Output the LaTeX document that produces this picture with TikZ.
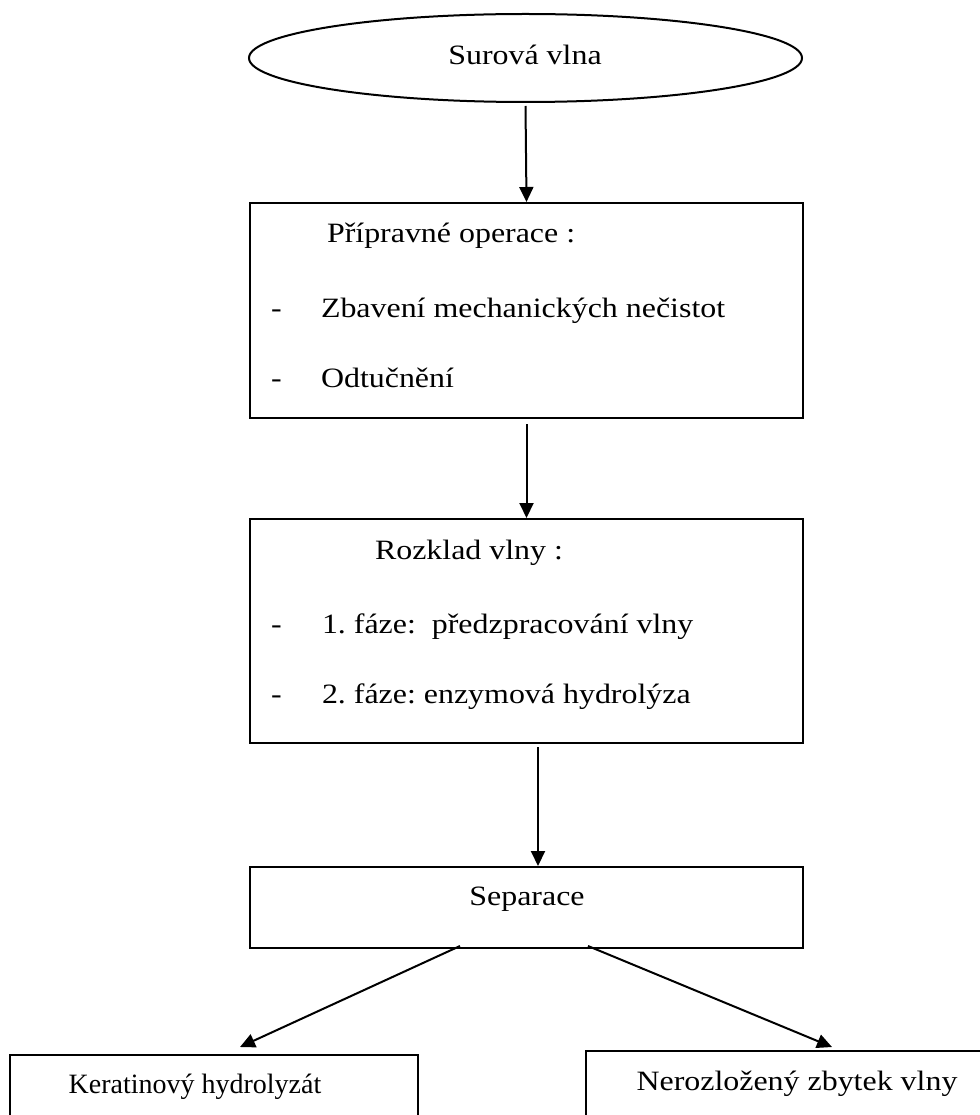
\documentclass[tikz,border=0pt]{standalone}
\usepackage{fontspec}
\setmainfont{Liberation Serif}[FakeStretch=1.14]
\newfontfamily\plainserif{Liberation Serif}
\usetikzlibrary{arrows.meta,shapes.geometric}
\begin{document}
\frenchspacing
\begin{tikzpicture}[x=1pt,y=-1pt,
  line width=2pt,
  box/.style={draw, rectangle, line width=2pt, inner sep=0pt, anchor=north west},
  txt/.style={anchor=base west, inner sep=0pt, font=\fontsize{28}{34}\selectfont},
  ctxt/.style={anchor=base, inner sep=0pt, font=\fontsize{28}{34}\selectfont},
  arr/.style={-{Triangle[length=15pt,width=14pt]}, line width=2pt}]
\useasboundingbox (0,0) rectangle (979,1115);
\node[draw, ellipse, line width=2pt, minimum width=553pt, minimum height=88pt, inner sep=0pt] (e) at (525.5,58) {};
\node[box, minimum width=553pt, minimum height=215pt] (b1) at (249,202) {};
\node[box, minimum width=553pt, minimum height=224pt] (b2) at (249,518) {};
\node[box, minimum width=553pt, minimum height=81pt] (b3) at (249,866) {};
\node[box, minimum width=408pt, minimum height=100pt] (b4) at (9,1054) {};
\node[box, minimum width=420pt, minimum height=100pt] (b5) at (585,1050) {};

\node[ctxt] (te) at (525,65) {Surová vlna};
\node[txt] (t1) at (326,243) {Přípravné operace :};
\node[txt] (d1) at (270,317) {-};
\node[txt] (t2) at (320,317) {Zbavení mechanických nečistot};
\node[txt] (d2) at (270,387) {-};
\node[txt] (t3) at (320,387) {Odtučnění};
\node[txt] (t4) at (374,559) {Rozklad vlny :};
\node[txt] (d3) at (270,633) {-};
\node[txt] (t5) at (321,633) {1. fáze:\ \ předzpracování vlny};
\node[txt] (d4) at (270,703) {-};
\node[txt] (t6) at (321,703) {2. fáze: enzymová hydrolýza};
\node[ctxt] (t7) at (527,905) {Separace};
\node[ctxt, font=\fontsize{28}{34}\plainserif] (t8) at (195,1093) {Keratinový hydrolyzát};
\node[ctxt] (t9) at (797,1090) {Nerozložený zbytek vlny};

\draw[arr] ([yshift=-3pt]e.south) -- (b1.north);
\draw[arr] ([yshift=-5pt]b1.south) -- (b2.north);
\draw[arr] ([xshift=11.5pt,yshift=-3pt]b2.south) -- ([xshift=11.5pt]b3.north);
\draw[arr] ([xshift=-66.5pt,yshift=3pt]b3.south) -- ([xshift=26pt,yshift=7pt]b4.north);
\draw[arr] ([xshift=61.5pt,yshift=3pt]b3.south) -- ([xshift=36pt,yshift=3pt]b5.north);
\end{tikzpicture}
\end{document}
